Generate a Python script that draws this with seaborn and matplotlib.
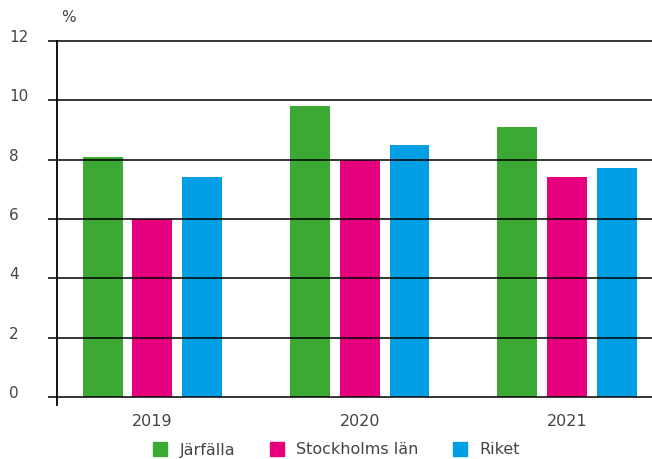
import pandas as pd
import matplotlib.pyplot as plt
import matplotlib.transforms as mtransforms
from matplotlib.lines import Line2D
import seaborn as sns

# data
years = ['2019', '2020', '2021']
regions = ['Järfälla', 'Stockholms län', 'Riket']
jarfalla = [8.1, 9.8, 9.1]
stockholm = [6.0, 8.0, 7.4]
riket = [7.4, 8.5, 7.7]
colors = ['#3DA935', '#E6007E', '#009FE3']
y_ticks = [0, 2, 4, 6, 8, 10, 12]

df = pd.DataFrame({
    'year': years * 3,
    'region': [regions[0]] * 3 + [regions[1]] * 3 + [regions[2]] * 3,
    'value': jarfalla + stockholm + riket,
})

sns.set_style('white')
plt.rcParams['font.family'] = ['DejaVu Sans']
text_col = '#444444'

fig = plt.figure(figsize=(6.52, 4.59), dpi=100)
ax = fig.add_axes([57 / 652, 1 - 405 / 459, 1 - 57 / 652, (405 - 40) / 459])

sns.barplot(data=df, x='year', y='value', hue='region', palette=colors,
            width=0.72, gap=0.2, saturation=1, errorbar=None, legend=False,
            linewidth=0, ax=ax, zorder=1)

ax.set_ylim(-0.27, 12.03)
ax.set_xlim(-0.46, 2.41)
ax.set_yticks(y_ticks)
ax.set_axisbelow(False)
ax.grid(axis='y', color='black', linewidth=1.1)
ax.grid(axis='x', visible=False)

for side in ['top', 'right', 'bottom']:
    ax.spines[side].set_visible(False)
ax.spines['left'].set_color('black')
ax.spines['left'].set_linewidth(1.3)
ax.spines['left'].set_bounds(-0.27, 12)

ax.tick_params(axis='y', left=True, length=6.5, width=1.1, color='black', pad=28,
               labelsize=11, labelcolor=text_col)
for lab in ax.get_yticklabels():
    lab.set_horizontalalignment('left')
    lab.set_transform(lab.get_transform() + mtransforms.ScaledTranslation(0, 5 / 100, fig.dpi_scale_trans))
ax.tick_params(axis='x', bottom=False, pad=3, labelsize=11.5, labelcolor=text_col)
ax.set_xlabel('')
ax.set_ylabel('')

fig.text(68 / 652, 1 - 18 / 459, '%', ha='center', va='center',
         fontsize=11, color=text_col)

handles = [Line2D([], [], marker='s', linestyle='', markersize=9.5,
                  markerfacecolor=c, markeredgecolor=c) for c in colors]
fig.legend(handles, regions, loc='center', bbox_to_anchor=(336 / 652, 1 - 450 / 459),
           ncol=3, frameon=False, fontsize=11.5, labelcolor=text_col,
           handletextpad=0.7, columnspacing=2.1, handlelength=1.0,
           borderpad=0.2)

fig.savefig('out.png', dpi=100)
